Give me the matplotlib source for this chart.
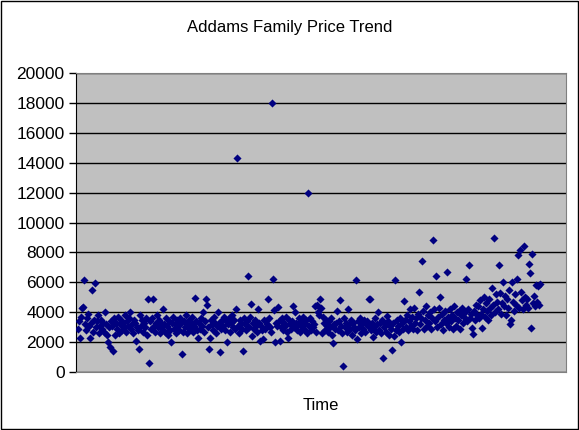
import matplotlib.pyplot as plt
from matplotlib.patches import Rectangle
from matplotlib.ticker import MultipleLocator

plt.rcParams['font.family'] = ['Liberation Sans', 'DejaVu Sans']

# sale prices in time order (one per sale)
prices = [
    2900, 3400, 2300, 3700, 4300, 4350, 6130, 3200, 2800, 3600, 3900, 3100, 2290, 3300, 5510, 2700, 3500, 5980, 3000, 3400,
    3800, 2600, 3100, 3500, 2900, 3300, 2700, 3980, 3200, 2500, 1980, 3000, 1640, 3400, 3100, 1400, 3600, 2500, 3300, 2900,
    3700, 2600, 3200, 3500, 2800, 3300, 3000, 3800, 2700, 3400, 3100, 3600, 3980, 2900, 3200, 2600, 3500, 3300, 2090, 3000,
    2800, 1530, 3840, 3100, 3500, 2700, 3300, 3000, 3600, 2500, 4910, 580, 3400, 2900, 3600, 4910, 3100, 2700, 3300, 3800,
    3000, 3500, 2600, 3300, 2900, 4240, 3200, 2700, 3600, 3100, 2500, 3400, 2800, 2000, 3300, 3700, 2900, 3200, 2600, 3500,
    3100, 2800, 3600, 3300, 1180, 2700, 3400, 3000, 3800, 2600, 3200, 3500, 2900, 3300, 3700, 2700, 3100, 4980, 3400, 2800,
    2290, 3300, 2900, 3600, 3100, 3980, 2700, 3400, 4910, 4510, 3000, 1530, 2290, 3500, 3200, 2800, 3700, 3300, 2600, 3100,
    3980, 3300, 1360, 2900, 3500, 3100, 3700, 2800, 3400, 2000, 3200, 3600, 2700, 3300, 3800, 3000, 3500, 2900, 4200, 14300,
    3100, 2610, 3500, 3300, 2900, 1400, 3600, 3200, 2800, 3400, 6420, 3000, 3700, 4580, 2420, 3300, 2900, 3500, 3100, 2700,
    4200, 3300, 2090, 3100, 2800, 2200, 3500, 2900, 3400, 3200, 4910, 3600, 3000, 2700, 18000, 6240, 4130, 2000, 3300, 3100,
    4350, 3400, 2090, 3000, 3600, 2800, 3300, 3100, 3700, 2700, 2290, 3500, 3200, 2900, 3400, 4420, 3000, 3980, 3300, 2800,
    3200, 3600, 2700, 3400, 3000, 3700, 2900, 3300, 3500, 2600, 12000, 3100, 3600, 2800, 3400, 3000, 3200, 4420, 2700, 4470,
    4000, 3800, 4910, 4300, 2600, 3700, 3300, 2800, 3500, 3100, 2700, 3400, 3000, 3600, 2500, 1910, 3200, 2900, 3300, 4110,
    2800, 3400, 4800, 3100, 2600, 400, 3600, 3000, 3300, 2700, 4240, 3200, 2900, 3500, 2500, 3300, 3000, 2800, 6130, 2200,
    3400, 3000, 3600, 2600, 3300, 2900, 3500, 2700, 3200, 3400, 3100, 4910, 4900, 2800, 3300, 2330, 3000, 3600, 2700, 3200,
    3980, 2800, 3300, 2600, 3500, 960, 3000, 3200, 2700, 3760, 3400, 2500, 3100, 2900, 1470, 3300, 2420, 6130, 2800, 3500,
    3100, 2700, 3600, 1980, 3300, 2900, 4730, 3500, 3000, 3800, 2800, 3400, 4200, 3100, 3700, 2900, 4300, 3300, 3600, 2800,
    3900, 5350, 3200, 3600, 7420, 4100, 2900, 3500, 4400, 3100, 3800, 3300, 4000, 2900, 3600, 8840, 4200, 3400, 6420, 3000,
    3700, 4300, 5020, 3200, 3900, 2800, 3500, 4100, 3300, 6690, 3700, 3000, 4200, 3400, 3800, 2900, 4400, 3600, 3100, 4000,
    3500, 4100, 2900, 3800, 4300, 3300, 3700, 4000, 6200, 3400, 4200, 7150, 3600, 3900, 2950, 2510, 4100, 3500, 4500, 3800,
    4400, 3600, 4800, 3900, 2950, 4200, 5000, 3700, 4600, 4100, 3500, 4900, 4300, 3800, 5620, 4500, 8950, 4000, 5200, 4700,
    4200, 7130, 5300, 3900, 4600, 6000, 4400, 5100, 3800, 4900, 4300, 5500, 3240, 3470, 6000, 4700, 4100, 5200, 4500, 6240,
    7800, 4300, 8130, 5350, 4800, 4200, 8420, 5000, 4500, 4900, 4300, 7240, 6640, 2950, 7910, 4600, 5100, 4400, 5800, 4700,
    5760, 4500, 5900,
]
sale_no = list(range(len(prices)))

fig = plt.figure(figsize=(5.79, 4.30), dpi=100)
fig.patch.set_facecolor('white')
# chart border
fig.patches.append(Rectangle((0.001, 0.002), 0.997, 0.996, transform=fig.transFigure,
                             fill=False, edgecolor='black', linewidth=1))

ax = fig.add_axes([0.131, 0.135, 0.8465, 0.695])
ax.set_facecolor('#C0C0C0')
ax.scatter(sale_no, prices, marker='D', s=17, color='#000080', linewidths=0, zorder=3)

ax.set_ylim(0, 20000)
ax.set_xlim(-2, 488)
ax.yaxis.set_major_locator(MultipleLocator(2000))
ax.grid(axis='y', color='black', linewidth=1)
ax.set_axisbelow(True)
ax.set_xticks([])
ax.tick_params(axis='y', direction='out', length=5, width=1, labelsize=12.5, pad=3)

for side in ['top', 'right', 'bottom']:
    ax.spines[side].set_color('#808080')
ax.spines['left'].set_color('black')

fig.text(0.5, 0.935, "Addams Family Price Trend", ha='center', va='center', fontsize=12)
ax.set_xlabel("Time", fontsize=12, labelpad=19)

fig.savefig('out.png', dpi=100)
